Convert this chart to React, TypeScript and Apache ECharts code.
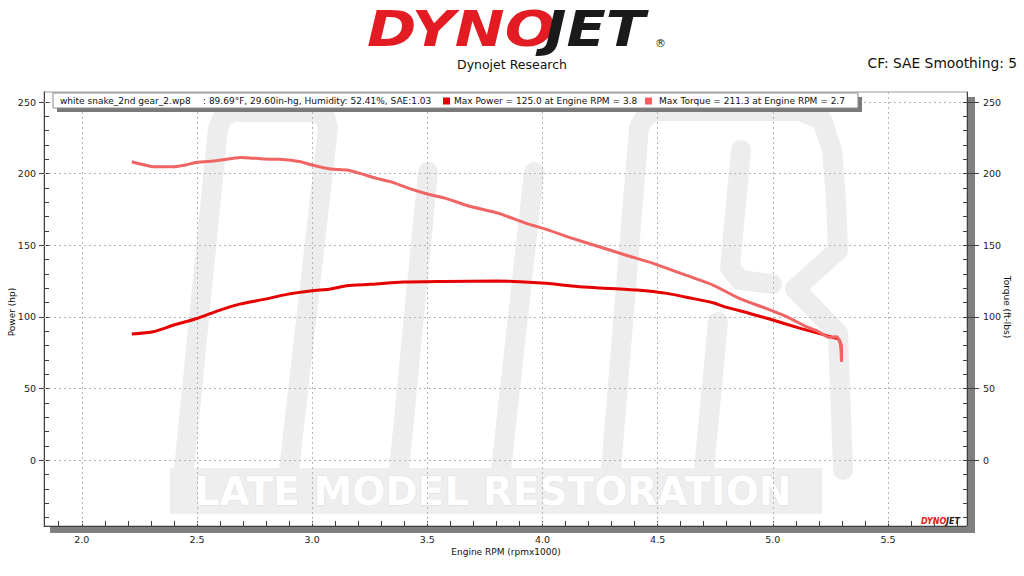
import React, { useEffect, useRef } from "react";
import * as echarts from "echarts";

// ---------- data ----------
const X_MAJOR = [2.0, 2.5, 3.0, 3.5, 4.0, 4.5, 5.0, 5.5];
const Y_MAJOR = [0, 50, 100, 150, 200, 250];
const X_MINOR = Array.from({ length: 40 }, (_, i) => +(1.9 + i * 0.1).toFixed(1));
const Y_MINOR = Array.from({ length: 30 }, (_, i) => -40 + i * 10);

const POWER_RPM = [2.217, 2.31, 2.4, 2.5, 2.6, 2.686, 2.79, 2.89, 3.0, 3.08, 3.15, 3.25, 3.395, 3.57, 3.8, 3.9, 4.016, 4.15, 4.25, 4.41, 4.54, 4.65, 4.74, 4.8, 4.9, 5.0, 5.12, 5.2, 5.26, 5.285, 5.296, 5.298];
const POWER_HP = [88.0, 89.6, 94.3, 98.9, 104.7, 108.9, 112.2, 115.7, 118.2, 119.4, 121.7, 122.7, 124.3, 124.7, 125.0, 124.6, 123.4, 121.2, 120.2, 118.7, 116.4, 112.9, 109.9, 106.6, 102.4, 97.8, 92.0, 88.5, 85.7, 84.5, 80.0, 69.0];

const TORQUE_RPM = [2.217, 2.26, 2.31, 2.4, 2.45, 2.5, 2.585, 2.69, 2.73, 2.79, 2.86, 2.95, 3.0, 3.08, 3.15, 3.207, 3.28, 3.34, 3.42, 3.5, 3.58, 3.68, 3.81, 3.93, 4.016, 4.13, 4.25, 4.36, 4.48, 4.61, 4.74, 4.855, 4.97, 5.06, 5.14, 5.2, 5.245, 5.277, 5.296, 5.298];
const TORQUE_LBFT = [208.3, 206.5, 204.8, 204.8, 206.0, 207.9, 209.0, 211.3, 211.0, 210.2, 210.0, 208.3, 206.0, 203.2, 202.5, 200.2, 196.7, 194.4, 189.7, 185.8, 182.7, 177.4, 172.3, 165.3, 161.1, 154.8, 148.8, 143.2, 137.4, 129.9, 122.2, 112.9, 105.9, 100.1, 93.6, 89.6, 85.7, 86.1, 80.3, 68.6];

const LEGEND_RUN = "white snake_2nd gear_2.wp8";
const LEGEND_ATM = ": 89.69°F, 29.60in-hg, Humidity: 52.41%, SAE:1.03";
const LEGEND_POWER = "Max Power = 125.0 at Engine RPM = 3.8";
const LEGEND_TORQUE = "Max Torque = 211.3 at Engine RPM = 2.7";

const X_MIN = 1.836;
const X_MAX = 5.843;
const Y_MIN = -46;
const Y_MAX = 257;

const FONT = "DejaVu Sans";
const POWER_COLOR = "#e60000";
const TORQUE_COLOR = "#f06464";
const GRID_COLOR = "#b4b4b4";
const AXIS_COLOR = "#404040";
const WM = "#ededed";

const zip = (a: number[], b: number[]) => a.map((v, i) => [v, b[i]]);

function buildOption() {
  const G = { left: 44, top: 92, width: 923, height: 434 };
  const labelStyle = { fontFamily: FONT, fontSize: 9.5, color: "#222" };
  const noZero = { onZero: false };
  const wmLine = (points: number[][]) => ({
    type: "polyline",
    z: 0,
    shape: { points },
    style: { stroke: WM, lineWidth: 20, fill: null, lineJoin: "round", lineCap: "round" },
  });
  const txt = (text: string, x: number, y: number, extra: any = {}) => ({
    type: "text",
    x,
    y,
    z: 20,
    style: {
      text,
      fontFamily: FONT,
      fontSize: 9,
      fill: "#111",
      textVerticalAlign: "middle",
      ...extra,
    },
  });

  return {
    animation: false,
    backgroundColor: "#ffffff",
    grid: {
      ...G,
      show: true,
      borderColor: "#9a9a9a",
      borderWidth: 1,
      backgroundColor: "transparent",
      containLabel: false,
    },
    xAxis: [
      {
        type: "value",
        min: X_MIN,
        max: X_MAX,
        position: "bottom",
        z: 3,
        axisLine: { show: true, ...noZero, lineStyle: { color: AXIS_COLOR, width: 1 } },
        axisTick: { show: true, inside: true, length: 5, customValues: X_MINOR, lineStyle: { color: AXIS_COLOR } },
        axisLabel: { show: true, customValues: X_MAJOR, margin: 8, formatter: (v: number) => v.toFixed(1), ...labelStyle },
        splitLine: { show: false },
      },
      {
        type: "value",
        min: X_MIN,
        max: X_MAX,
        position: "top",
        z: 3,
        axisLine: { show: false, ...noZero },
        axisTick: { show: true, inside: true, length: 434, customValues: X_MAJOR, lineStyle: { color: GRID_COLOR, type: [2, 3] } },
        axisLabel: { show: false },
        splitLine: { show: false },
      },
    ],
    yAxis: [
      {
        type: "value",
        min: Y_MIN,
        max: Y_MAX,
        position: "left",
        z: 3,
        axisLine: { show: true, ...noZero, lineStyle: { color: AXIS_COLOR } },
        axisTick: { show: true, inside: false, length: 5, customValues: Y_MAJOR, lineStyle: { color: AXIS_COLOR } },
        axisLabel: { show: true, customValues: Y_MAJOR, margin: 8, ...labelStyle },
        splitLine: { show: false },
      },
      {
        type: "value",
        min: Y_MIN,
        max: Y_MAX,
        position: "left",
        offset: 0,
        z: 3,
        axisLine: { show: false, ...noZero },
        axisTick: { show: true, inside: true, length: 5, customValues: Y_MINOR, lineStyle: { color: AXIS_COLOR } },
        axisLabel: { show: false },
        splitLine: { show: false },
      },
      {
        type: "value",
        min: Y_MIN,
        max: Y_MAX,
        position: "left",
        offset: 0,
        z: 3,
        axisLine: { show: false, ...noZero },
        axisTick: { show: true, inside: true, length: 923, customValues: Y_MAJOR, lineStyle: { color: GRID_COLOR, type: [2, 3] } },
        axisLabel: { show: false },
        splitLine: { show: false },
      },
      {
        type: "value",
        min: Y_MIN,
        max: Y_MAX,
        position: "right",
        z: 3,
        axisLine: { show: true, ...noZero, lineStyle: { color: AXIS_COLOR } },
        axisTick: { show: true, inside: false, length: 12, customValues: Y_MAJOR, lineStyle: { color: AXIS_COLOR } },
        axisLabel: { show: true, customValues: Y_MAJOR, margin: 16, ...labelStyle },
        splitLine: { show: false },
      },
      {
        type: "value",
        min: Y_MIN,
        max: Y_MAX,
        position: "right",
        offset: 0,
        z: 3,
        axisLine: { show: false, ...noZero },
        axisTick: { show: true, inside: true, length: 4, customValues: Y_MINOR, lineStyle: { color: AXIS_COLOR } },
        axisLabel: { show: false },
        splitLine: { show: false },
      },
    ],
    series: [
      {
        name: "Power",
        type: "line",
        xAxisIndex: 0,
        yAxisIndex: 0,
        z: 5,
        data: zip(POWER_RPM, POWER_HP),
        showSymbol: false,
        smooth: 0.2,
        lineStyle: { color: POWER_COLOR, width: 3 },
      },
      {
        name: "Torque",
        type: "line",
        xAxisIndex: 0,
        yAxisIndex: 3,
        z: 6,
        data: zip(TORQUE_RPM, TORQUE_LBFT),
        showSymbol: false,
        smooth: 0.2,
        lineStyle: { color: TORQUE_COLOR, width: 3 },
      },
    ],
    graphic: [
      // watermark
      wmLine([[184, 470], [218, 128], [223, 117], [234, 112], [315, 112], [325, 117], [328, 128], [289, 470]]),
      wmLine([[428, 172], [399, 470]]),
      wmLine([[534, 172], [501, 470]]),
      wmLine([[611, 470], [639, 128], [645, 116], [657, 111], [800, 111], [822, 120], [832, 150], [836, 200], [838, 250], [795, 289], [838, 333], [843, 470]]),
      wmLine([[704, 470], [718, 322]]),
      wmLine([[741, 150], [730, 268], [740, 280], [772, 284]]),
      { type: "rect", z: 0, shape: { x: 170, y: 468, width: 652, height: 46 }, style: { fill: "#eeeeee" } },
      {
        type: "text",
        x: 493,
        y: 491,
        z: 1,
        style: {
          text: "LATE MODEL RESTORATION",
          fontFamily: FONT,
          fontWeight: "bold",
          fontSize: 39,
          fill: "#ffffff",
          stroke: "#e0e0e0",
          lineWidth: 1,
          textAlign: "center",
          textVerticalAlign: "middle",
        },
      },
      // frame shadow
      { type: "rect", z: 1, shape: { x: 50, y: 527, width: 925, height: 6 }, style: { fill: "#808080" } },
      { type: "rect", z: 1, shape: { x: 968, y: 97, width: 7, height: 436 }, style: { fill: "#808080" } },
      // legend box
      { type: "rect", z: 18, shape: { x: 57, y: 97, width: 805, height: 15 }, style: { fill: "#7a7a7a" } },
      { type: "rect", z: 19, shape: { x: 53, y: 93, width: 805, height: 15 }, style: { fill: "#ffffff", stroke: "#8a8a8a", lineWidth: 1 } },
      txt(LEGEND_RUN, 60, 101),
      txt(LEGEND_ATM, 203, 101),
      { type: "rect", z: 20, shape: { x: 443, y: 97.5, width: 7, height: 7 }, style: { fill: "#e00000" } },
      txt(LEGEND_POWER, 454, 101),
      { type: "rect", z: 20, shape: { x: 645, y: 97.5, width: 7, height: 7 }, style: { fill: "#f06060" } },
      txt(LEGEND_TORQUE, 659, 101),
      // header logo
      {
        type: "text",
        x: 367,
        y: 29,
        z: 20,
        scaleX: 1.24,
        scaleY: 1.02,
        style: { text: "DYNO", fontFamily: FONT, fontWeight: "bold", fontStyle: "italic", fontSize: 48, lineHeight: 40, fill: "#e31b23", textVerticalAlign: "middle" },
      },
      {
        type: "text",
        x: 545,
        y: 29,
        z: 20,
        scaleX: 1.2,
        scaleY: 1.02,
        style: { text: "JET", fontFamily: FONT, fontWeight: "bold", fontStyle: "italic", fontSize: 48, lineHeight: 40, fill: "#1a1a1a", textVerticalAlign: "middle" },
      },
      txt("®", 655, 43, { fontSize: 11, fill: "#222" }),
      txt("Dynojet Research", 512, 64, { fontSize: 12.5, textAlign: "center" }),
      txt("CF: SAE Smoothing: 5", 1017, 63, { fontSize: 13.8, textAlign: "right" }),
      // axis names
      txt("Engine RPM (rpmx1000)", 506, 552, { textAlign: "center" }),
      {
        type: "text",
        x: 12,
        y: 312,
        rotation: Math.PI / 2,
        z: 20,
        style: { text: "Power (hp)", fontFamily: FONT, fontSize: 9, fill: "#111", textAlign: "center", textVerticalAlign: "middle" },
      },
      {
        type: "text",
        x: 1007,
        y: 307,
        rotation: -Math.PI / 2,
        z: 20,
        style: { text: "Torque (ft-lbs)", fontFamily: FONT, fontSize: 9, fill: "#111", textAlign: "center", textVerticalAlign: "middle" },
      },
      // small logo bottom-right
      {
        type: "text",
        x: 921,
        y: 521,
        z: 20,
        style: { text: "DYNO", fontFamily: FONT, fontWeight: "bold", fontStyle: "italic", fontSize: 8, fill: "#e31b23", textVerticalAlign: "middle" },
      },
      {
        type: "text",
        x: 946,
        y: 521,
        z: 20,
        style: { text: "JET", fontFamily: FONT, fontWeight: "bold", fontStyle: "italic", fontSize: 8, fill: "#1a1a1a", textVerticalAlign: "middle" },
      },
    ],
  };
}

export default function App() {
  const ref = useRef<HTMLDivElement>(null);
  useEffect(() => {
    if (!ref.current) return;
    const chart = echarts.init(ref.current, null, { renderer: "svg" });
    chart.setOption(buildOption() as any);
    return () => chart.dispose();
  }, []);
  return <div ref={ref} style={{ position: "absolute", left: 0, top: 0, width: 1024, height: 576 }} />;
}
